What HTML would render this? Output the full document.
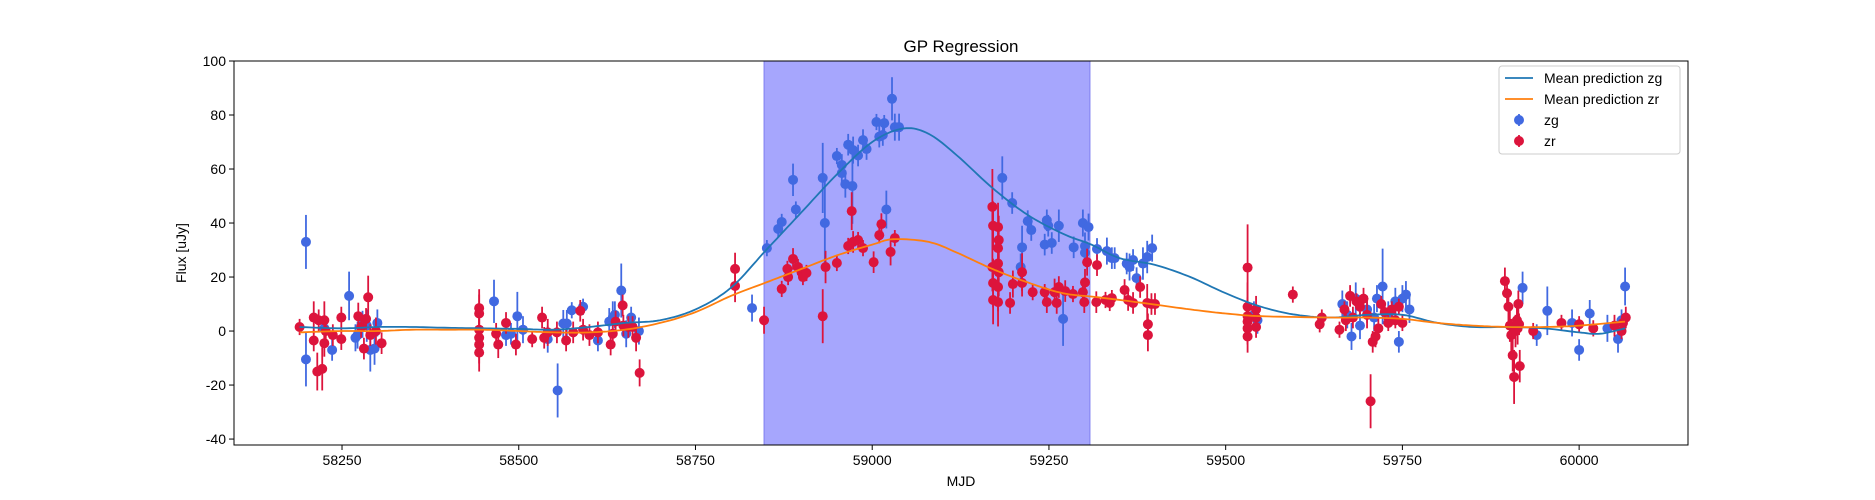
<!DOCTYPE html>
<html><head><meta charset="utf-8"><style>
html,body{margin:0;padding:0;background:#fff;}
svg{display:block;font-family:"Liberation Sans","DejaVu Sans",sans-serif;}
</style></head><body>
<svg id="chart" width="1875" height="500" viewBox="0 0 1875 500" xmlns="http://www.w3.org/2000/svg">
<rect width="1875" height="500" fill="#fff"/>
<text x="961" y="52" font-size="17" text-anchor="middle" fill="#000">GP Regression</text>
<g id="shade"></g><g id="lines"></g><g id="marks"></g><g id="axes"></g>
<text x="961" y="486" font-size="14" text-anchor="middle">MJD</text>
<text x="0" y="0" font-size="14" text-anchor="middle" transform="translate(186,253) rotate(-90)">Flux [uJy]</text>
<g id="legend"></g>
</svg>
<script>
const xTicks=[58250,58500,58750,59000,59250,59500,59750,60000];
const yTicks=[-40,-20,0,20,40,60,80,100];
const shadeRange=[58847,59308];
const zgMjd=[58199,58199,58225,58236,58260,58269,58272,58279,58285,58290,58296,58300,58465,58482,58489,58498,58506,58541,58555,58563,58568,58575,58591,58612,58628,58633,58636,58645,58652,58659,58670,58830,58851,58867,58872,58888,58892,58930,58933,58950,58957,58957,58962,58966,58972,58973,58980,58987,58992,59006,59017,59010,59015,59020,59028,59032,59038,59184,59198,59220,59225,59212,59210,59247,59249,59264,59244,59254,59270,59285,59298,59306,59301,59301,59318,59332,59339,59343,59360,59364,59369,59374,59383,59389,59396,59540,59545,59665,59672,59678,59684,59690,59700,59710,59714,59722,59730,59740,59745,59750,59755,59760,59920,59940,59955,59990,60000,60015,60040,60055,60060,60065];
const zgFlux=[33,-10.5,1,-7,13,-2.5,-1.5,2.5,2,-7,-6.5,3,11,-1.5,-1,5.5,0.5,-3,-22,2.8,2.8,7.7,9,-3.5,3.5,5,6,15,-1,5,0,8.5,30.7,37.8,40.4,56,45,56.7,40,64.8,61.5,58.5,54.4,69,53.7,67,65,70.7,67.4,77.4,77,72,72.6,45,86,75.5,75.5,56.7,47.4,40.7,37.4,31,23.7,41,39,39,32,32.6,4.5,31,40,38.5,31.5,29,30.4,29.6,27,27,25,23.7,26.3,19.6,25,27.4,30.7,6,4,10,6,-2,12,2,8,5,12,16.5,6,11,-4,12,13.5,8,16,-1.5,7.5,3,-7,6.5,1,-3,4,16.5];
const zgErr=[10,10,5,4,9,5,5,5,6,8,6,5,8,4,4,9,5,5,10,5,5,3,3,4,5,6,5,10,5,4,5,5,3,3,3,6,3,13,16,3,4,4,5,4,14,5,4,4,4,3,3,4,4,7,8,5,5,8,4,4,4,8,5,4,4,6,4,4,10,4,5,5,5,4,4,5,4,4,4,5,4,4,6,6,5,5,5,5,5,5,6,5,5,5,5,14,5,5,4,5,5,5,6,4,9,5,4,5,5,5,4,7];
const zrMjd=[58190,58210,58210,58215,58217,58222,58225,58225,58227,58237,58249,58249,58273,58277,58281,58284,58287,58290,58298,58306,58444,58444,58444,58444,58444,58444,58468,58471,58482,58496,58519,58533,58536,58541,58554,58567,58577,58587,58591,58600,58612,58630,58633,58637,58647,58648,58655,58661,58666,58671,58806,58806,58847,58872,58880,58881,58888,58895,58900,58902,58907,58930,58934,58950,58966,58971,58973,58980,58987,59002,59010,59013,59026,59032,59170,59171,59178,59179,59178,59170,59178,59179,59171,59178,59171,59178,59199,59195,59212,59212,59227,59244,59247,59258,59264,59261,59273,59284,59298,59301,59304,59300,59318,59317,59330,59339,59336,59357,59362,59369,59379,59389,59390,59395,59390,59400,59531,59531,59531,59531,59531,59531,59543,59543,59543,59595,59633,59636,59661,59668,59670,59676,59680,59685,59690,59695,59700,59705,59708,59712,59716,59720,59725,59730,59735,59740,59745,59750,59895,59898,59900,59902,59904,59906,59908,59910,59912,59914,59916,59913,59915,59935,59975,60000,60020,60050,60060,60066,60062];
const zrFlux=[1.5,-3.5,5,-15,4,-14,4,-4.5,0,-1.5,5,-3,5.5,1.5,-6.5,4.5,12.5,-1.5,0,-4.5,8.5,6.5,0.5,-2.5,-5,-8,-1,-5,3,-5,-3,5,-2.5,-0.5,-0.5,-3.5,-0.5,7.5,0.5,-1.5,-0.5,-5,-1,3.5,9.5,2,1.5,1.5,-2.5,-15.5,23,16.7,4,15.6,23,20,26.7,23.7,21.8,20,21.5,5.5,23.7,25.2,31.5,44.4,33,33.7,30.7,25.5,35.5,39.6,29.3,34.4,46,39,38.5,33.7,30.7,23.7,25,21.8,17.8,16.3,11.5,10.7,17.4,10.4,21.8,17.8,14.4,14.4,10.7,14.4,16.3,10.4,14.8,13.7,14.4,18,25.5,10.7,24.4,10.7,11.5,12.2,10.4,15.2,11.5,10.4,16.3,10.4,-1.5,10,2.5,10,23.5,9,5.5,3.5,1,-2,8,5,1.5,13.5,2.5,5,0.5,8,4,13,5,11,9,12,6,-26,-4,-2,1,10,7,3,8,4,9,3,18.5,14,9,2,-1.5,-9,-17,0,4,10,-13,1,2.5,0,3,2.5,1,2,0,5,3];
const zrErr=[3,4,6,7,4,8,7,5,4,4,4,4,5,4,4,4,8,4,5,4,7,7,7,7,7,7,4,5,4,4,3,4,4,5,4,4,4,4,4,4,4,4,4,4,4,4,4,4,5,5,6,6,5,3,3,3,4,3,3,3,3,10,6,3,3,7,4,3,3,4,3,4,5,3,14,9,9,9,9,9,9,9,9,9,9,9,5,4,7,5,3,3,4,5,4,4,4,3,3,5,5,4,4,4,3,3,3,4,4,4,4,7,6,4,4,4,16,9,7,5,6,6,5,5,4,3,3,3,3,3,4,4,4,3,3,4,5,10,4,4,4,3,3,3,3,3,3,3,5,5,6,6,6,6,10,6,5,5,6,6,4,3,3,3,3,4,3,4,3];
const zgMeanMjd=[58190,58250,58300,58350,58400,58450,58500,58550,58600,58650,58700,58750,58800,58850,58900,58950,59000,59044,59080,59120,59170,59220,59270,59310,59350,59400,59450,59500,59550,59600,59650,59700,59750,59800,59850,59900,59950,60000,60030,60065];
const zgMeanFlux=[1.5,1,1.5,1.5,1.2,1,0.8,0.5,1.5,3,4,8,16,30,44,58,70,75,73,65,53,43,36,32,27,24.5,20,14,9,6,5,6,6,3,1.5,1.5,1,-0.5,-1,1];
const zrMeanMjd=[58190,58250,58300,58350,58400,58450,58500,58550,58600,58650,58700,58750,58800,58850,58900,58950,59000,59030,59080,59120,59170,59220,59270,59320,59380,59450,59500,59550,59650,59700,59750,59800,59850,59900,59950,60000,60065];
const zrMeanFlux=[-0.5,0,0,0.5,0.5,0.5,0,-0.5,-0.5,0.5,3,7,13,18,23,28,32,34,33,29,23,18,14,12.5,10.5,8,6.5,5.5,5,5,4.5,3,2,1.5,1.5,2,3.5];

const NS="http://www.w3.org/2000/svg";
const L=234,R=1688,T=61,B=445,X0=58097.2,X1=60154,Y0=-42.2,Y1=100;
const sx=v=>L+(v-X0)/(X1-X0)*(R-L);
const sy=v=>B-(v-Y0)/(Y1-Y0)*(B-T);
function mk(tag,attrs,parent){const e=document.createElementNS(NS,tag);for(const k in attrs)e.setAttribute(k,attrs[k]);parent.appendChild(e);return e;}

const shade=mk('rect',{x:sx(shadeRange[0]),y:T,width:sx(shadeRange[1])-sx(shadeRange[0]),height:B-T,fill:'#a6a6fd',stroke:'#7f7ff0','stroke-width':1},document.getElementById('shade'));



function smooth(xs,ys){let d='';const n=xs.length;
 for(let i=0;i<n-1;i++){const x0=xs[Math.max(0,i-1)],y0=ys[Math.max(0,i-1)],x1=xs[i],y1=ys[i],x2=xs[i+1],y2=ys[i+1],x3=xs[Math.min(n-1,i+2)],y3=ys[Math.min(n-1,i+2)];
  for(let s=0;s<=10;s++){const t=s/10,t2=t*t,t3=t2*t;
   const x=0.5*((2*x1)+(-x0+x2)*t+(2*x0-5*x1+4*x2-x3)*t2+(-x0+3*x1-3*x2+x3)*t3);
   const y=0.5*((2*y1)+(-y0+y2)*t+(2*y0-5*y1+4*y2-y3)*t2+(-y0+3*y1-3*y2+y3)*t3);
   d+=(d?'L':'M')+sx(x).toFixed(1)+','+sy(y).toFixed(1);}}
 return d;}
const lines=document.getElementById('lines');
const marks=document.getElementById('marks');
function drawPts(mj,fl,er,col,nm){
 for(let i=0;i<mj.length;i++){
  const g=mk('g',{},marks);
  
  
  mk('line',{x1:sx(mj[i]),x2:sx(mj[i]),y1:sy(fl[i]-er[i]),y2:sy(fl[i]+er[i]),stroke:col,'stroke-width':1.8},g);
  mk('circle',{cx:sx(mj[i]),cy:sy(fl[i]),r:5,fill:col},g);
 }}
drawPts(zgMjd,zgFlux,zgErr,'#4169e1','zg');
drawPts(zrMjd,zrFlux,zrErr,'#dc143c','zr');
const lg=mk('path',{d:smooth(zgMeanMjd,zgMeanFlux),fill:'none',stroke:'#1f77b4','stroke-width':1.8},lines);


const lr=mk('path',{d:smooth(zrMeanMjd,zrMeanFlux),fill:'none',stroke:'#ff7f0e','stroke-width':1.8},lines);


// move lines above points
marks.parentNode.appendChild(lines);
const axes=document.getElementById('axes');
marks.parentNode.appendChild(axes);
const frame=mk('rect',{x:L,y:T,width:R-L,height:B-T,fill:'none',stroke:'#000','stroke-width':1},axes);


xTicks.forEach(v=>{const x=sx(v);
 mk('line',{x1:x,x2:x,y1:B,y2:B+5,stroke:'#000'},axes);
 const t=mk('text',{x:x,y:B+20,'font-size':14,'text-anchor':'middle'},axes);t.textContent=v;
 
 });
yTicks.forEach(v=>{const y=sy(v);
 mk('line',{x1:L-5,x2:L,y1:y,y2:y,stroke:'#000'},axes);
 const t=mk('text',{x:L-8,y:y+5,'font-size':14,'text-anchor':'end'},axes);t.textContent=v;
 
 });
const leg=document.getElementById('legend');
marks.parentNode.appendChild(leg);
mk('rect',{x:1499,y:66,width:181,height:88,rx:3,fill:'#fff','fill-opacity':0.85,stroke:'#ccc'},leg);
const items=[['Mean prediction zg','line','#1f77b4'],['Mean prediction zr','line','#ff7f0e'],['zg','pt','#4169e1'],['zr','pt','#dc143c']];
items.forEach((it,i)=>{const y=78+i*21;
 const g=mk('g',{},leg);
 
 
 if(it[1]=='line')mk('line',{x1:1505,x2:1533,y1:y,y2:y,stroke:it[2],'stroke-width':1.8},g);
 else{mk('line',{x1:1519,x2:1519,y1:y-6,y2:y+6,stroke:it[2],'stroke-width':1.8},g);mk('circle',{cx:1519,cy:y,r:5,fill:it[2]},g);}
 const t=mk('text',{x:1544,y:y+5,'font-size':14},g);t.textContent=it[0];});
</script>
</body></html>
